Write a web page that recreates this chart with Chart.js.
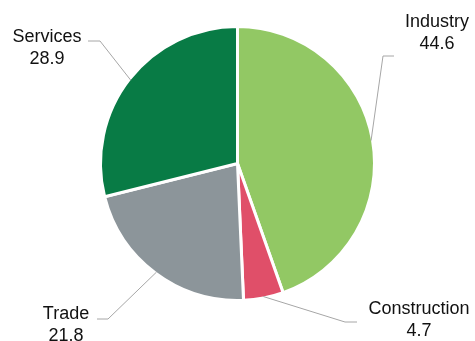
<!DOCTYPE html>
<html>
<head>
<meta charset="utf-8">
<script src="https://cdn.jsdelivr.net/npm/chart.js@4/dist/chart.umd.min.js"></script>
<style>
  html, body { margin: 0; padding: 0; background: #fff; }
  #wrap { width: 475px; height: 341px; }
</style>
</head>
<body>
<div id="wrap"><canvas id="pieChart" width="475" height="341"></canvas></div>
<script>
var sectors = ['Industry', 'Construction', 'Trade', 'Services'];
var shares = [44.6, 4.7, 21.8, 28.9];
var sectorColors = ['#92c864', '#e04f69', '#8c959a', '#087b45'];

// where each callout bends, where its tail ends, and where its text sits
var callouts = [
  { elbow: [383, 56],  tail: [394, 56],  text: [437, 27] },
  { elbow: [345, 322], tail: [357, 322], text: [419, 314] },
  { elbow: [108, 319], tail: [97, 319],  text: [66, 319] },
  { elbow: [100, 41],  tail: [88, 41],   text: [47, 42] }
];

var calloutPlugin = {
  id: 'callouts',
  afterDatasetsDraw: function(chart) {
    var ctx = chart.ctx;
    var meta = chart.getDatasetMeta(0);
    ctx.save();
    meta.data.forEach(function(arc, i) {
      var p = arc.getProps(['x', 'y', 'startAngle', 'endAngle', 'outerRadius'], true);
      var mid = (p.startAngle + p.endAngle) / 2;
      var r = p.outerRadius - 1.5;
      var sx = p.x + Math.cos(mid) * r;
      var sy = p.y + Math.sin(mid) * r;
      var c = callouts[i];

      ctx.strokeStyle = '#a6a6a6';
      ctx.lineWidth = 1;
      ctx.beginPath();
      ctx.moveTo(sx, sy);
      ctx.lineTo(c.elbow[0], c.elbow[1]);
      ctx.lineTo(c.tail[0], c.tail[1]);
      ctx.stroke();

      ctx.fillStyle = '#111';
      ctx.font = '18px "Liberation Sans", Arial, sans-serif';
      ctx.textAlign = 'center';
      ctx.textBaseline = 'alphabetic';
      ctx.fillText(sectors[i], c.text[0], c.text[1]);
      ctx.fillText(shares[i].toFixed(1), c.text[0], c.text[1] + 21.5);
    });
    ctx.restore();
  }
};

new Chart(document.getElementById('pieChart'), {
  type: 'pie',
  data: {
    labels: sectors,
    datasets: [{
      data: shares,
      backgroundColor: sectorColors,
      borderColor: '#ffffff',
      borderWidth: 3
    }]
  },
  options: {
    responsive: false,
    animation: false,
    layout: { padding: { top: 25, bottom: 39, left: 99, right: 99 } },
    plugins: {
      legend: { display: false },
      tooltip: { enabled: false }
    }
  },
  plugins: [calloutPlugin]
});
</script>
</body>
</html>
